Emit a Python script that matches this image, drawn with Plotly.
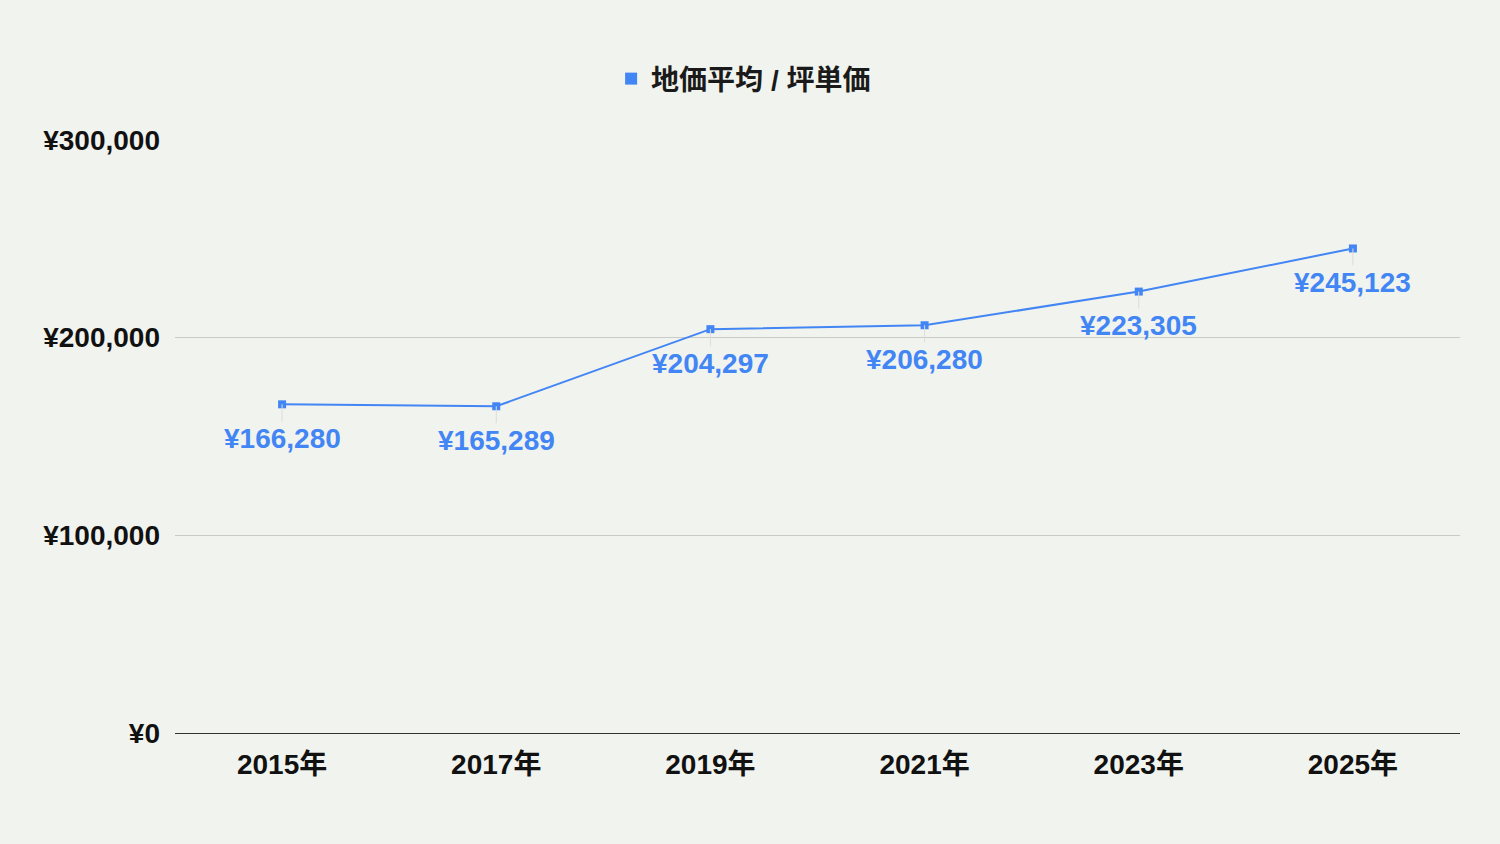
import plotly.graph_objects as go

years = ["2015年", "2017年", "2019年", "2021年", "2023年", "2025年"]
prices = [166280, 165289, 204297, 206280, 223305, 245123]
series_name = "地価平均 / 坪単価"
y_ticks = [0, 100000, 200000, 300000]
y_tick_labels = ["¥0", "¥100,000", "¥200,000", "¥300,000"]

BLUE = "#4285f4"
BG = "#f1f3ee"
FONT = "Arial, 'Liberation Sans', 'Noto Sans CJK JP', sans-serif"

fig = go.Figure()
fig.add_trace(go.Scatter(
    x=years, y=prices, mode="lines+markers",
    line=dict(color=BLUE, width=2),
    marker=dict(symbol="square", size=8, color=BLUE),
    showlegend=False, hoverinfo="skip",
))
fig.add_trace(go.Scatter(
    x=[None], y=[None], mode="markers", name=series_name,
    marker=dict(symbol="square", size=9, color=BLUE),
    showlegend=True,
))

annotations = []
for yr, p in zip(years, prices):
    annotations.append(dict(
        x=yr, y=p, xref="x", yref="y",
        text="<b>¥{:,}</b>".format(p),
        showarrow=True, arrowhead=0, arrowwidth=1, arrowcolor="#dcdcdc",
        ax=0, ay=34, standoff=0,
        font=dict(family=FONT, size=28, color=BLUE),
    ))

fig.update_layout(
    width=1500, height=844,
    paper_bgcolor=BG, plot_bgcolor=BG,
    margin=dict(l=175, r=40, t=140, b=111),
    font=dict(family=FONT, size=28, color="#111111"),
    annotations=annotations,
    legend=dict(
        orientation="h", x=0.4425, xanchor="center",
        y=1.103, yanchor="middle",
        font=dict(family=FONT, size=28, color="#1a1a1a", weight="bold"),
        bgcolor="rgba(0,0,0,0)", itemsizing="constant",
    ),
    xaxis=dict(
        type="category", range=[-0.5, 5.5],
        showgrid=False, showline=False, zeroline=False, ticks="",
        tickfont=dict(family=FONT, size=28, color="#111111", weight="bold"),
        ticklabelstandoff=12, tickangle=0,
    ),
    yaxis=dict(
        range=[0, 300000], tickvals=y_ticks, ticktext=y_tick_labels,
        showgrid=True, gridcolor="#c9cbc6", gridwidth=1,
        zeroline=True, zerolinecolor="#333333", zerolinewidth=1,
        showline=False, ticks="",
        tickfont=dict(family=FONT, size=28, color="#111111", weight="bold"),
        ticklabelstandoff=14,
    ),
)

fig.write_html(
    "out.html",
    config={"displayModeBar": False},
    post_script="document.body.style.margin='0';document.body.style.background='#f1f3ee';",
)
